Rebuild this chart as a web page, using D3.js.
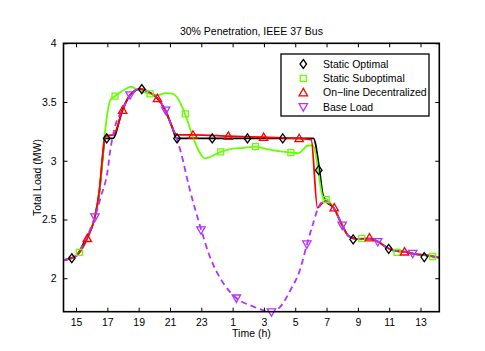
<!DOCTYPE html>
<html>
<head>
<meta charset="utf-8">
<script src="https://cdn.jsdelivr.net/npm/d3@7"></script>
<style>
  body { margin: 0; background: #fff; }
  text { font-family: "Liberation Sans", Arial, Helvetica, sans-serif; fill: #000; }
</style>
</head>
<body>
<script>
// load curves, hour of day (15 .. 37 = 15h .. 13h next day), total load in MW
var baseLoad = [[14.2,2.155],[15,2.19],[15.5,2.3],[16.2,2.52],[16.6,2.7],[17.0,2.9],[17.2,3.1],[17.45,3.27],[17.98,3.44],[18.45,3.56],[19.0,3.61],[19.6,3.59],[20.2,3.53],[20.7,3.43],[21.1,3.3],[21.45,3.18],[21.7,3.07],[22.2,2.79],[23.0,2.41],[23.5,2.2],[24.0,2.05],[24.5,1.94],[25.25,1.83],[26.3,1.76],[27.0,1.725],[27.5,1.712],[28.0,1.75],[28.7,1.9],[29.3,2.07],[29.75,2.29],[30.15,2.47],[30.5,2.61],[30.85,2.66],[31.45,2.6],[32.0,2.45],[32.4,2.36],[32.9,2.335],[33.7,2.335],[34.3,2.31],[34.8,2.265],[35.3,2.235],[36.0,2.225],[36.5,2.21],[37.0,2.2],[37.6,2.19],[38.2,2.175]];
var staticOptimal = [[14.2,2.155],[15,2.19],[15.5,2.3],[16.2,2.52],[16.5,2.74],[16.7,3.02],[16.85,3.19],[17.35,3.19],[17.98,3.44],[18.45,3.56],[19.1,3.61],[19.6,3.59],[20.2,3.53],[20.7,3.43],[21.1,3.3],[21.43,3.19],[25.0,3.19],[28.0,3.19],[30.16,3.19],[30.55,2.92],[30.75,2.72],[30.95,2.66],[31.45,2.6],[32.0,2.45],[32.4,2.36],[32.9,2.335],[33.7,2.335],[34.3,2.31],[34.8,2.265],[35.3,2.235],[36.0,2.225],[36.5,2.21],[37.0,2.2],[37.6,2.19],[38.2,2.175]];
var staticSuboptimal = [[14.2,2.155],[15,2.19],[15.21,2.22],[15.72,2.34],[16.2,2.52],[16.5,2.74],[16.85,3.25],[17.2,3.52],[17.49,3.55],[18.03,3.6],[18.5,3.63],[18.98,3.6],[19.73,3.57],[20.26,3.56],[20.7,3.575],[21.2,3.57],[21.5,3.53],[21.96,3.4],[22.5,3.19],[23.24,3.02],[24.24,3.075],[24.84,3.1],[25.69,3.11],[26.44,3.12],[27.19,3.1],[28.04,3.08],[28.72,3.07],[29.2,3.065],[29.84,3.13],[30.12,3.13],[30.85,2.67],[31.0,2.67],[31.45,2.6],[32.0,2.45],[32.4,2.36],[32.9,2.335],[33.7,2.335],[34.3,2.31],[34.8,2.265],[35.3,2.235],[36.0,2.225],[36.5,2.21],[37.0,2.2],[37.6,2.19],[38.2,2.175]];
var onlineDecentralized = [[14.2,2.155],[15,2.19],[15.72,2.34],[16.2,2.52],[16.5,2.76],[16.7,3.05],[16.85,3.21],[17.38,3.22],[17.98,3.43],[18.45,3.56],[19.1,3.61],[19.6,3.59],[20.2,3.53],[20.7,3.43],[21.1,3.3],[21.43,3.22],[22.5,3.22],[24.75,3.21],[27.0,3.2],[29.25,3.19],[30.02,3.18],[30.42,2.6],[30.85,2.65],[31.45,2.6],[32.0,2.45],[32.4,2.36],[32.9,2.335],[33.7,2.34],[34.3,2.31],[34.8,2.265],[35.3,2.235],[36.0,2.225],[36.5,2.21],[37.0,2.2],[37.6,2.19],[38.2,2.175]];

// marker positions
var optimalMarks = [[14.73,2.17],[16.96,3.19],[19.2,3.61],[21.45,3.19],[23.7,3.19],[25.95,3.19],[28.2,3.19],[30.5,2.92],[32.7,2.33],[34.97,2.25],[37.24,2.18]];
var suboptimalMarks = [[15.21,2.22],[17.49,3.55],[19.73,3.57],[21.98,3.4],[24.24,3.075],[26.46,3.12],[28.72,3.07],[30.97,2.67],[33.25,2.34],[35.5,2.22],[37.78,2.185]];
var onlineMarks = [[15.72,2.34],[17.98,3.43],[20.2,3.53],[22.47,3.22],[24.73,3.21],[26.98,3.2],[29.25,3.19],[31.49,2.6],[33.74,2.345],[35.98,2.225]];
var baseMarks = [[16.21,2.52],[18.45,3.56],[20.72,3.43],[22.98,2.41],[25.24,1.83],[27.48,1.712],[29.74,2.29],[32.0,2.45],[34.27,2.31],[36.5,2.21]];

var xTicks = [15,17,19,21,23,25,27,29,31,33,35,37];
var xTickLabels = ["15","17","19","21","23","1","3","5","7","9","11","13"];
var yTicks = [2,2.5,3,3.5,4];
var yTickLabels = ["2","2.5","3","3.5","4"];
var legendNames = ["Static Optimal","Static Suboptimal","On\u2212line Decentralized","Base Load"];

var W = 485, H = 351;
var pLeft = 63.5, pRight = 439.3, pTop = 43.3, pBottom = 311.7;

var svg = d3.select("body").append("svg").attr("width", W).attr("height", H);

var x = d3.scaleLinear().domain([14.2, 38.2]).range([pLeft, pRight]);
var y = d3.scaleLinear().domain([1.715, 4]).range([pBottom, pTop]);

var line = d3.line().x(d => x(d[0])).y(d => y(d[1])).curve(d3.curveMonotoneX);

// series: data, marks, colour, marker shape, dashed
var series = [
    {data: staticOptimal, marks: optimalMarks, color: "#000000", shape: "diamond", dash: null},
    {data: staticSuboptimal, marks: suboptimalMarks, color: "#66ff00", shape: "square", dash: null},
    {data: onlineDecentralized, marks: onlineMarks, color: "#ff0000", shape: "up", dash: null},
    {data: baseLoad, marks: baseMarks, color: "#b233ff", shape: "down", dash: "6,4"}
];

function markerPath(shape) {
    if (shape == "diamond") return "M0,-4.5L3.3,0L0,4.5L-3.3,0Z";
    if (shape == "square") return "M-3,-3L3,-3L3,3L-3,3Z";
    if (shape == "up") return "M0,-4.2L4.2,3.2L-4.2,3.2Z";
    return "M0,4.2L4.2,-3.2L-4.2,-3.2Z";
}

svg.append("clipPath").attr("id", "clip").append("rect")
    .attr("x", pLeft).attr("y", pTop).attr("width", pRight - pLeft).attr("height", pBottom - pTop);

var plot = svg.append("g");

series.forEach(function(s) {
    plot.append("path")
        .attr("d", line(s.data))
        .attr("clip-path", "url(#clip)")
        .style("fill", "none")
        .style("stroke", s.color)
        .style("stroke-width", 1.8)
        .style("stroke-dasharray", s.dash);
});

series.forEach(function(s) {
    plot.selectAll(null).data(s.marks).enter().append("path")
        .attr("transform", d => "translate(" + x(d[0]) + "," + y(d[1]) + ")")
        .attr("d", markerPath(s.shape))
        .style("fill", "none")
        .style("stroke", s.color)
        .style("stroke-width", 1.3);
});

// axes box with inward ticks on all sides
var xAxisB = d3.axisBottom(x).tickValues(xTicks).tickFormat((d, i) => xTickLabels[i]).tickSizeInner(-4).tickSizeOuter(0).tickPadding(7);
var xAxisT = d3.axisTop(x).tickValues(xTicks).tickFormat("").tickSizeInner(-4).tickSizeOuter(0);
var yAxisL = d3.axisLeft(y).tickValues(yTicks).tickFormat((d, i) => yTickLabels[i]).tickSizeInner(-4).tickSizeOuter(0).tickPadding(7);
var yAxisR = d3.axisRight(y).tickValues(yTicks).tickFormat("").tickSizeInner(-4).tickSizeOuter(0);

var axes = [
    svg.append("g").attr("transform", "translate(0," + pBottom + ")").call(xAxisB),
    svg.append("g").attr("transform", "translate(0," + pTop + ")").call(xAxisT),
    svg.append("g").attr("transform", "translate(" + pLeft + ",0)").call(yAxisL),
    svg.append("g").attr("transform", "translate(" + pRight + ",0)").call(yAxisR)
];
axes.forEach(function(a) {
    a.select(".domain").remove();
    a.selectAll(".tick line").style("stroke", "#000").style("stroke-width", 1);
    a.selectAll(".tick text").style("font-size", "10.5px").style("font-family", "Liberation Sans, Arial, sans-serif");
});

svg.append("rect")
    .attr("x", pLeft).attr("y", pTop).attr("width", pRight - pLeft).attr("height", pBottom - pTop)
    .style("fill", "none").style("stroke", "#000").style("stroke-width", 1.6);

// labels
svg.append("text").attr("x", (pLeft + pRight) / 2).attr("y", 35).attr("text-anchor", "middle")
    .style("font-size", "10.5px").text("30% Penetration, IEEE 37 Bus");
svg.append("text").attr("x", (pLeft + pRight) / 2).attr("y", 337).attr("text-anchor", "middle")
    .style("font-size", "10.5px").text("Time (h)");
svg.append("text").attr("transform", "translate(41," + (pTop + pBottom) / 2 + ") rotate(-90)")
    .attr("text-anchor", "middle").style("font-size", "10.5px").text("Total Load (MW)");

// legend
var legend = svg.append("g");
legend.append("rect").attr("x", 281).attr("y", 54).attr("width", 148).attr("height", 62)
    .style("fill", "#fff").style("stroke", "#000").style("stroke-width", 1.3);
series.forEach(function(s, i) {
    var ly = 64 + i * 14.3;
    legend.append("path")
        .attr("transform", "translate(303.3," + ly + ")")
        .attr("d", markerPath(s.shape))
        .style("fill", "none").style("stroke", s.color).style("stroke-width", 1.3);
    legend.append("text").attr("x", 323).attr("y", ly + 3.8)
        .style("font-size", "10.5px").text(legendNames[i]);
});
</script>
</body>
</html>
